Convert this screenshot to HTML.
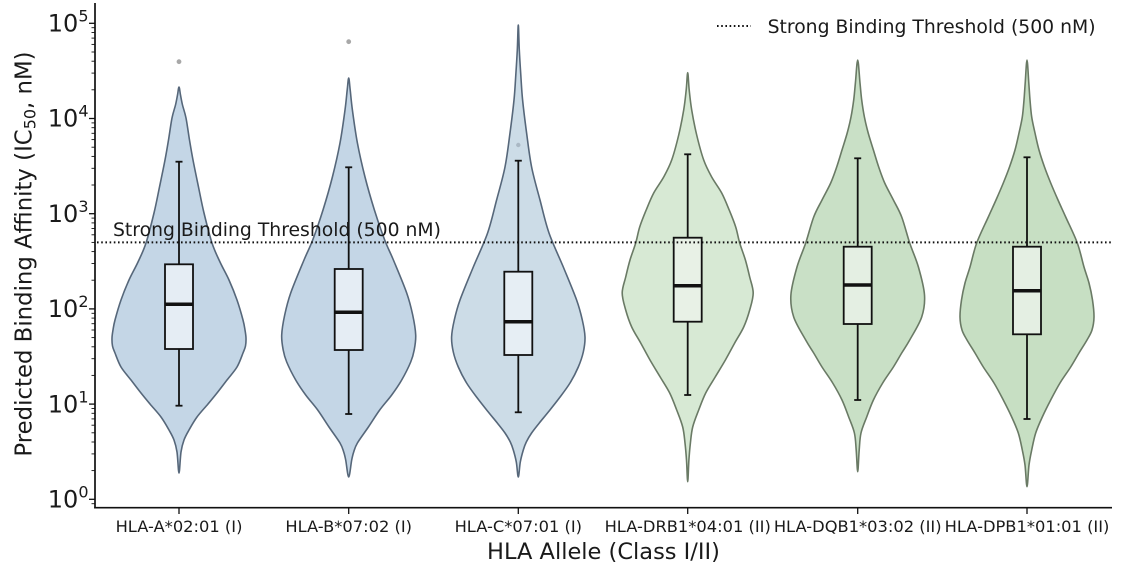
<!DOCTYPE html>
<html>
<head>
<meta charset="utf-8">
<style>
  html,body{margin:0;padding:0;background:#ffffff;}
  svg{display:block;}
  text{font-family:"DejaVu Sans","Liberation Sans",sans-serif;fill:#1a1a1a;}
</style>
</head>
<body>
<svg id="chart" width="1126" height="573" viewBox="0 0 1126 573" xmlns="http://www.w3.org/2000/svg">
  <rect x="0" y="0" width="1126" height="573" fill="#ffffff"/>

  <!-- Violins -->
  <g id="violins" stroke-width="1.6" stroke-linejoin="round">
    <!-- A -->
    <polygon class="v" data-cx="179" transform="translate(179,0)" fill="#c4d6e6" stroke="#56677a"
      points="0,87 1.5,95 3.5,105 7,118 10.5,140 14,160 19.5,187 25,213 33,243 41,262 50,280 58,300 64,320 66,330 67,338 66.5,346 64,353 58,367 48,380 38,393 29,404 18,417 10,430 5,440 2,452 0,473 -2,452 -5,440 -10,430 -18,417 -29,404 -38,393 -48,380 -58,367 -64,353 -66.5,346 -67,338 -66,330 -64,320 -58,300 -50,280 -41,262 -33,243 -25,213 -19.5,187 -14,160 -10.5,140 -7,118 -3.5,105 -1.5,95"/>
    <!-- B -->
    <polygon class="v" transform="translate(348.7,0)" fill="#c4d6e6" stroke="#56677a"
      points="0,78 1.5,90 3.7,110 8.7,143 16.3,177 25.7,210 36,240 44.7,260 58,293 64,315 67,335 65.5,350 62,362 53,380 43,395 31,410 19.7,427 8.7,443 5,452 3,460 0,477 -3,460 -5,452 -8.7,443 -19.7,427 -31,410 -43,395 -53,380 -62,362 -65.5,350 -67,335 -64,315 -58,293 -44.7,260 -36,240 -25.7,210 -16.3,177 -8.7,143 -3.7,110 -1.5,90"/>
    <!-- C -->
    <polygon class="v" transform="translate(518.3,0)" fill="#ccdce7" stroke="#56677a"
      points="0,25 1,50 2.5,75 4.3,100 8.3,133 13.3,167 21.7,200 30.7,233 45,267 58.3,300 64,320 66.7,337 65,352 60,367 51.7,383 41,398 30,412 21,423 13.3,433 8,442 5,450 2,462 0,477 -2,462 -5,450 -8,442 -13.3,433 -21,423 -30,412 -41,398 -51.7,383 -60,367 -65,352 -66.7,337 -64,320 -58.3,300 -45,267 -30.7,233 -21.7,200 -13.3,167 -8.3,133 -4.3,100 -2.5,75 -1,50"/>
    <!-- DRB1 -->
    <polygon class="v" transform="translate(687.7,0)" fill="#d7e9d4" stroke="#6a7a65"
      points="0,72.7 1.5,90 4,110 9,135 16,160 24,177 34,193 41.5,210 48,227 52,243 57.7,260 62,277 65.5,293 62,310 56,327 47,343 37.7,360 27.5,377 18,393 11,410 5,427 2.7,443 1.2,460 0,481.7 -1.2,460 -2.7,443 -5,427 -11,410 -18,393 -27.5,377 -37.7,360 -47,343 -56,327 -62,310 -65.5,293 -62,277 -57.7,260 -52,243 -48,227 -41.5,210 -34,193 -24,177 -16,160 -9,135 -4,110 -1.5,90"/>
    <!-- DQB1 -->
    <polygon class="v" transform="translate(857.7,0)" fill="#c9e0c6" stroke="#6a7a65"
      points="0,60 2.3,83 4,100 6.7,117 10.5,133 15.7,150 21,167 27,183 35.7,200 44,217 52,243 60.7,267 66.8,295 64,317 52,340 44,353 35.7,367 25,383 15.7,400 9,417 3.3,433 1.5,450 0,471.7 -1.5,450 -3.3,433 -9,417 -15.7,400 -25,383 -35.7,367 -44,353 -52,340 -64,317 -66.8,295 -60.7,267 -52,243 -44,217 -35.7,200 -27,183 -21,167 -15.7,150 -10.5,133 -6.7,117 -4,100 -2.3,83"/>
    <!-- DPB1 -->
    <polygon class="v" transform="translate(1027,0)" fill="#c7dfc3" stroke="#6a7a65"
      points="0,60 1.8,83 3,100 4.7,117 8,133 12,150 17.5,167 23.7,183 31,200 38.7,217 50.3,243 57,267 62,283 65.5,300 67,317 65,330 60,340 52,353 43.7,367 33,383 23.7,400 15.3,417 8.7,433 4.7,450 2,465 0,486.7 -2,465 -4.7,450 -8.7,433 -15.3,417 -23.7,400 -33,383 -43.7,367 -52,353 -60,340 -65,330 -67,317 -65.5,300 -62,283 -57,267 -50.3,243 -38.7,217 -31,200 -23.7,183 -17.5,167 -12,150 -8,133 -4.7,117 -3,100 -1.8,83"/>
  </g>

  <!-- Outliers -->
  <circle cx="179" cy="61.7" r="2.4" fill="#a8a8a8"/>
  <circle cx="348.7" cy="41.7" r="2.4" fill="#a8a8a8"/>
  <circle cx="518.3" cy="145" r="2.2" fill="#aab8c4"/>

  <!-- Box plots -->
  <g stroke="#111111" stroke-width="1.8" fill="none">
    <line x1="179" y1="161.7" x2="179" y2="264.3"/><line x1="179" y1="349" x2="179" y2="405.7"/>
    <line x1="175.5" y1="161.7" x2="182.5" y2="161.7"/><line x1="175.5" y1="405.7" x2="182.5" y2="405.7"/>
    <rect x="165" y="264.3" width="28" height="84.7" fill="#e5edf4"/>
    <line x1="165" y1="304.3" x2="193" y2="304.3" stroke-width="3.5"/>

    <line x1="348.7" y1="167.3" x2="348.7" y2="269"/><line x1="348.7" y1="350" x2="348.7" y2="414"/>
    <line x1="345.2" y1="167.3" x2="352.2" y2="167.3"/><line x1="345.2" y1="414" x2="352.2" y2="414"/>
    <rect x="334.7" y="269" width="28" height="81" fill="#e5edf4"/>
    <line x1="334.7" y1="312.3" x2="362.7" y2="312.3" stroke-width="3.5"/>

    <line x1="518.3" y1="160.7" x2="518.3" y2="271.7"/><line x1="518.3" y1="355" x2="518.3" y2="412.3"/>
    <line x1="514.8" y1="160.7" x2="521.8" y2="160.7"/><line x1="514.8" y1="412.3" x2="521.8" y2="412.3"/>
    <rect x="504.3" y="271.7" width="28" height="83.3" fill="#e6eef4"/>
    <line x1="504.3" y1="321.7" x2="532.3" y2="321.7" stroke-width="3.5"/>

    <line x1="687.7" y1="154.3" x2="687.7" y2="237.7"/><line x1="687.7" y1="321.7" x2="687.7" y2="395"/>
    <line x1="684.2" y1="154.3" x2="691.2" y2="154.3"/><line x1="684.2" y1="395" x2="691.2" y2="395"/>
    <rect x="673.7" y="237.7" width="28" height="84" fill="#e8f1e6"/>
    <line x1="673.7" y1="285.7" x2="701.7" y2="285.7" stroke-width="3.5"/>

    <line x1="857.7" y1="158.3" x2="857.7" y2="246.7"/><line x1="857.7" y1="324" x2="857.7" y2="400"/>
    <line x1="854.2" y1="158.3" x2="861.2" y2="158.3"/><line x1="854.2" y1="400" x2="861.2" y2="400"/>
    <rect x="843.7" y="246.7" width="28" height="77.3" fill="#e4efe3"/>
    <line x1="843.7" y1="285" x2="871.7" y2="285" stroke-width="3.5"/>

    <line x1="1027" y1="157.3" x2="1027" y2="246.7"/><line x1="1027" y1="334.3" x2="1027" y2="419"/>
    <line x1="1023.5" y1="157.3" x2="1030.5" y2="157.3"/><line x1="1023.5" y1="419" x2="1030.5" y2="419"/>
    <rect x="1013" y="246.7" width="28" height="87.6" fill="#e4efe3"/>
    <line x1="1013" y1="290.7" x2="1041" y2="290.7" stroke-width="3.5"/>
  </g>

  <!-- Threshold line -->
  <line x1="97" y1="242.4" x2="1112" y2="242.4" stroke="#111111" stroke-width="2" stroke-dasharray="1.6 2.6"/>
  <text x="113" y="236" font-size="18.8">Strong Binding Threshold (500 nM)</text>

  <!-- Legend -->
  <line x1="717" y1="26" x2="751" y2="26" stroke="#111111" stroke-width="2" stroke-dasharray="1.6 2.6"/>
  <text x="767.6" y="33" font-size="18.8">Strong Binding Threshold (500 nM)</text>

  <!-- Axes spines -->
  <g stroke="#111111" fill="none">
    <line x1="95" y1="3" x2="95" y2="508.5" stroke-width="1.7"/>
    <line x1="94.2" y1="507.7" x2="1112" y2="507.7" stroke-width="1.7"/>
  </g>

  <!-- Y major ticks -->
  <g stroke="#111111" stroke-width="1.3">
    <line x1="89" y1="499.3" x2="95" y2="499.3"/>
    <line x1="89" y1="404.1" x2="95" y2="404.1"/>
    <line x1="89" y1="308.9" x2="95" y2="308.9"/>
    <line x1="89" y1="213.7" x2="95" y2="213.7"/>
    <line x1="89" y1="118.5" x2="95" y2="118.5"/>
    <line x1="89" y1="23.3" x2="95" y2="23.3"/>
  </g>
  <!-- Y minor ticks -->
  <g stroke="#111111" stroke-width="0.9">
    <line x1="91.5" y1="503.7" x2="95" y2="503.7"/>
    <line x1="91.5" y1="470.6" x2="95" y2="470.6"/><line x1="91.5" y1="453.9" x2="95" y2="453.9"/><line x1="91.5" y1="442.0" x2="95" y2="442.0"/><line x1="91.5" y1="432.8" x2="95" y2="432.8"/><line x1="91.5" y1="425.2" x2="95" y2="425.2"/><line x1="91.5" y1="418.9" x2="95" y2="418.9"/><line x1="91.5" y1="413.3" x2="95" y2="413.3"/><line x1="91.5" y1="408.5" x2="95" y2="408.5"/>
    <line x1="91.5" y1="375.4" x2="95" y2="375.4"/><line x1="91.5" y1="358.7" x2="95" y2="358.7"/><line x1="91.5" y1="346.8" x2="95" y2="346.8"/><line x1="91.5" y1="337.6" x2="95" y2="337.6"/><line x1="91.5" y1="330.0" x2="95" y2="330.0"/><line x1="91.5" y1="323.7" x2="95" y2="323.7"/><line x1="91.5" y1="318.1" x2="95" y2="318.1"/><line x1="91.5" y1="313.3" x2="95" y2="313.3"/>
    <line x1="91.5" y1="280.2" x2="95" y2="280.2"/><line x1="91.5" y1="263.5" x2="95" y2="263.5"/><line x1="91.5" y1="251.6" x2="95" y2="251.6"/><line x1="91.5" y1="242.4" x2="95" y2="242.4"/><line x1="91.5" y1="234.8" x2="95" y2="234.8"/><line x1="91.5" y1="228.5" x2="95" y2="228.5"/><line x1="91.5" y1="222.9" x2="95" y2="222.9"/><line x1="91.5" y1="218.1" x2="95" y2="218.1"/>
    <line x1="91.5" y1="185.0" x2="95" y2="185.0"/><line x1="91.5" y1="168.3" x2="95" y2="168.3"/><line x1="91.5" y1="156.4" x2="95" y2="156.4"/><line x1="91.5" y1="147.2" x2="95" y2="147.2"/><line x1="91.5" y1="139.6" x2="95" y2="139.6"/><line x1="91.5" y1="133.3" x2="95" y2="133.3"/><line x1="91.5" y1="127.7" x2="95" y2="127.7"/><line x1="91.5" y1="122.9" x2="95" y2="122.9"/>
    <line x1="91.5" y1="89.8" x2="95" y2="89.8"/><line x1="91.5" y1="73.1" x2="95" y2="73.1"/><line x1="91.5" y1="61.2" x2="95" y2="61.2"/><line x1="91.5" y1="52.0" x2="95" y2="52.0"/><line x1="91.5" y1="44.4" x2="95" y2="44.4"/><line x1="91.5" y1="38.1" x2="95" y2="38.1"/><line x1="91.5" y1="32.5" x2="95" y2="32.5"/><line x1="91.5" y1="27.7" x2="95" y2="27.7"/>
  </g>

  <!-- Y tick labels -->
  <g font-size="24" text-anchor="end">
    <text x="88.5" y="507.5">10<tspan dy="-10" font-size="16">0</tspan></text>
    <text x="88.5" y="412.3">10<tspan dy="-10" font-size="16">1</tspan></text>
    <text x="88.5" y="317.1">10<tspan dy="-10" font-size="16">2</tspan></text>
    <text x="88.5" y="221.9">10<tspan dy="-10" font-size="16">3</tspan></text>
    <text x="88.5" y="126.7">10<tspan dy="-10" font-size="16">4</tspan></text>
    <text x="88.5" y="31.5">10<tspan dy="-10" font-size="16">5</tspan></text>
  </g>

  <!-- X ticks -->
  <g stroke="#111111" stroke-width="1.3">
    <line x1="179" y1="507.7" x2="179" y2="514"/>
    <line x1="348.7" y1="507.7" x2="348.7" y2="514"/>
    <line x1="518.3" y1="507.7" x2="518.3" y2="514"/>
    <line x1="687.7" y1="507.7" x2="687.7" y2="514"/>
    <line x1="857.7" y1="507.7" x2="857.7" y2="514"/>
    <line x1="1027" y1="507.7" x2="1027" y2="514"/>
  </g>

  <!-- X tick labels -->
  <g font-size="16.3" text-anchor="middle">
    <text x="179" y="532">HLA-A*02:01 (I)</text>
    <text x="348.7" y="532">HLA-B*07:02 (I)</text>
    <text x="518.3" y="532">HLA-C*07:01 (I)</text>
    <text x="687.7" y="532">HLA-DRB1*04:01 (II)</text>
    <text x="857.7" y="532">HLA-DQB1*03:02 (II)</text>
    <text x="1027" y="532">HLA-DPB1*01:01 (II)</text>
  </g>

  <!-- Axis labels -->
  <text x="603.5" y="559" font-size="22.5" text-anchor="middle">HLA Allele (Class I/II)</text>
  <text transform="translate(31.5,254) rotate(-90)" font-size="22.8" text-anchor="middle">Predicted Binding Affinity (IC<tspan dy="4" font-size="16">50</tspan><tspan dy="-4">, nM)</tspan></text>
</svg>
<script>
(function(){
  try{
    var NS="http://www.w3.org/2000/svg";
    var polys=document.querySelectorAll("polygon.v");
    for(var k=0;k<polys.length;k++){
      var pg=polys[k];
      var raw=pg.getAttribute("points").trim().split(/\s+/);
      var P=raw.map(function(s){var a=s.split(",");return [parseFloat(a[0]),parseFloat(a[1])];});
      var n=P.length;
      var d="M"+P[0][0]+","+P[0][1];
      for(var i=0;i<n;i++){
        var p0=P[(i-1+n)%n],p1=P[i],p2=P[(i+1)%n],p3=P[(i+2)%n];
        var c1x=p1[0]+(p2[0]-p0[0])/6,c1y=p1[1]+(p2[1]-p0[1])/6;
        var c2x=p2[0]-(p3[0]-p1[0])/6,c2y=p2[1]-(p3[1]-p1[1])/6;
        d+=" C"+c1x.toFixed(2)+","+c1y.toFixed(2)+" "+c2x.toFixed(2)+","+c2y.toFixed(2)+" "+p2[0]+","+p2[1];
      }
      d+=" Z";
      var path=document.createElementNS(NS,"path");
      path.setAttribute("d",d);
      path.setAttribute("transform",pg.getAttribute("transform"));
      path.setAttribute("fill",pg.getAttribute("fill"));
      path.setAttribute("stroke",pg.getAttribute("stroke"));
      pg.parentNode.replaceChild(path,pg);
    }
  }catch(e){}
})();
</script>
</body>
</html>
